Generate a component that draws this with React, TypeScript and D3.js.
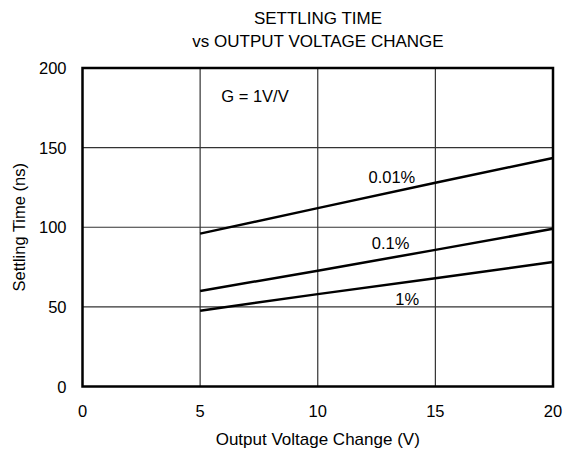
import React, { useEffect, useRef } from 'react';
import * as d3 from 'd3';

// values
const voltage = [5, 10, 15, 20];
const settle001 = [96, 112, 128, 143.5];
const settle01 = [60, 72.7, 85.8, 99];
const settle1 = [47.6, 58, 68, 78.2];
const xTicks = [0, 5, 10, 15, 20];
const yTicks = [0, 50, 100, 150, 200];
const curveLabels = ['0.01%', '0.1%', '1%'];

const App = () => {
  const svgRef = useRef<SVGSVGElement>(null);

  useEffect(() => {
    const svg = d3.select(svgRef.current);
    svg.selectAll('*').remove();

    const margin = { top: 68, right: 19, bottom: 67.5, left: 82.5 };
    const width = 572 - margin.left - margin.right;
    const height = 454 - margin.top - margin.bottom;
    const font = 'Liberation Sans, Arial, sans-serif';

    const g = svg.append('g').attr('transform', `translate(${margin.left},${margin.top})`);

    const x = d3.scaleLinear().domain([0, 20]).range([0, width]);
    const y = d3.scaleLinear().domain([0, 200]).range([height, 0]);

    // grid
    g.selectAll('.vgrid')
      .data(xTicks.slice(1, -1))
      .enter().append('line')
      .attr('x1', d => x(d)).attr('x2', d => x(d))
      .attr('y1', 0).attr('y2', height)
      .attr('stroke', '#333').attr('stroke-width', 1.2);
    g.selectAll('.hgrid')
      .data(yTicks.slice(1, -1))
      .enter().append('line')
      .attr('x1', 0).attr('x2', width)
      .attr('y1', d => y(d)).attr('y2', d => y(d))
      .attr('stroke', '#333').attr('stroke-width', 1.2);

    // frame
    g.append('rect')
      .attr('x', 0).attr('y', 0).attr('width', width).attr('height', height)
      .attr('fill', 'none').attr('stroke', '#000').attr('stroke-width', 2.5);

    // tick labels
    g.selectAll('.xt')
      .data(xTicks)
      .enter().append('text')
      .attr('x', d => x(d)).attr('y', height + 30)
      .attr('text-anchor', 'middle')
      .style('font-family', font).style('font-size', '16.5px')
      .text(d => d);
    g.selectAll('.yt')
      .data(yTicks)
      .enter().append('text')
      .attr('x', -16).attr('y', d => y(d) + 6)
      .attr('text-anchor', 'end')
      .style('font-family', font).style('font-size', '16.5px')
      .text(d => d);

    // curves
    const line = d3.line<[number, number]>()
      .x(d => x(d[0]))
      .y(d => y(d[1]));
    [settle001, settle01, settle1].forEach(s => {
      g.append('path')
        .datum(voltage.map((v, i) => [v, s[i]] as [number, number]))
        .attr('fill', 'none')
        .attr('stroke', '#000')
        .attr('stroke-width', 2.5)
        .attr('d', line);
    });

    // curve labels
    const labelPos = [[13.15, 128], [13.1, 86.5], [13.8, 51]];
    curveLabels.forEach((t, i) => {
      g.append('text')
        .attr('x', x(labelPos[i][0])).attr('y', y(labelPos[i][1]))
        .attr('text-anchor', 'middle')
        .style('font-family', font).style('font-size', '16.5px')
        .text(t);
    });

    g.append('text')
      .attr('x', x(5.9)).attr('y', y(178.5))
      .style('font-family', font).style('font-size', '16.5px')
      .text('G = 1V/V');

    // titles
    svg.append('text')
      .attr('x', 318).attr('y', 24)
      .attr('text-anchor', 'middle')
      .style('font-family', font).style('font-size', '17px')
      .text('SETTLING TIME');
    svg.append('text')
      .attr('x', 318).attr('y', 46.5)
      .attr('text-anchor', 'middle')
      .style('font-family', font).style('font-size', '17px')
      .text('vs OUTPUT VOLTAGE CHANGE');
    svg.append('text')
      .attr('x', margin.left + width / 2).attr('y', 445)
      .attr('text-anchor', 'middle')
      .style('font-family', font).style('font-size', '17px')
      .text('Output Voltage Change (V)');
    svg.append('text')
      .attr('transform', `translate(25,${margin.top + height / 2}) rotate(-90)`)
      .attr('text-anchor', 'middle')
      .style('font-family', font).style('font-size', '16.5px')
      .text('Settling Time (ns)');
  }, []);

  return (
    <svg ref={svgRef} width={572} height={454} style={{ position: 'absolute', left: 0, top: 0, background: '#fff' }}></svg>
  );
};

export default App;
